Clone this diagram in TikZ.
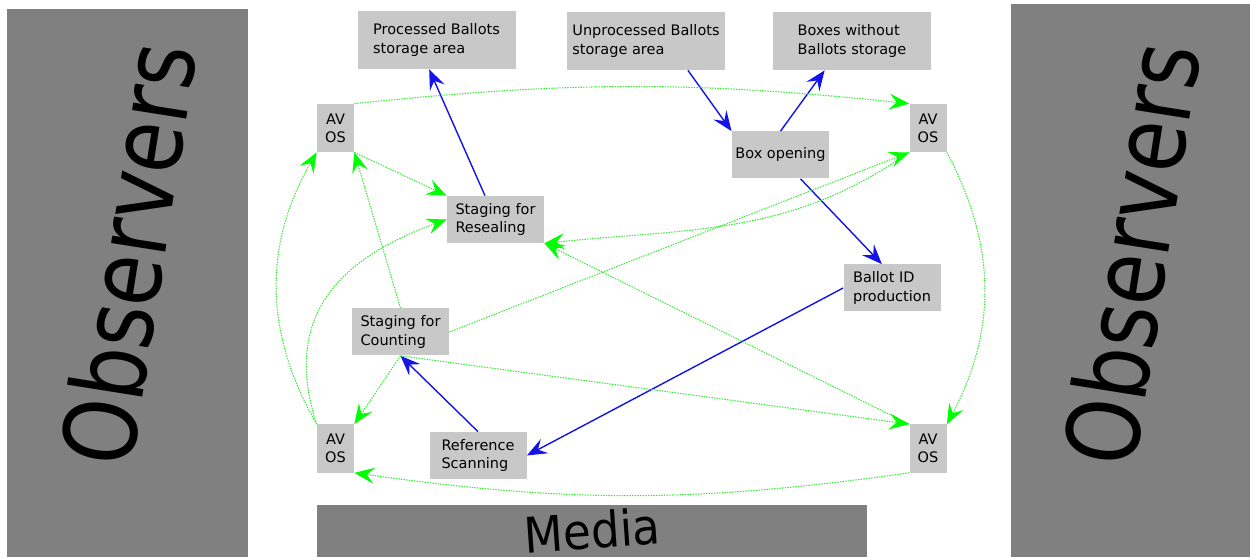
\documentclass[tikz,border=0pt]{standalone}
\usepackage{graphicx}
\usepackage{fontspec}
\setmainfont{DejaVu Sans}
\usetikzlibrary{positioning, arrows.meta, calc}
\definecolor{boxgrey}{RGB}{200,200,200}
\definecolor{panelgrey}{RGB}{128,128,128}
\definecolor{flowblue}{RGB}{20,20,230}
\definecolor{watchgreen}{RGB}{50,235,50}
\definecolor{tipgreen}{RGB}{0,255,0}

\begin{document}
\begin{tikzpicture}
		
		\tikzset{grey box/.style={
				fill=boxgrey,
				align=left,
				inner sep=2pt,
				minimum width=#1,
				minimum height=.94cm,
				font=\fontsize{8.25}{10.4}\selectfont
			},
			grey box/.default=1.94cm,
			store box/.style={grey box=3.16cm, minimum height=1.16cm},
			av box/.style={grey box=.74cm, minimum height=.96cm, align=center, inner sep=0pt},
			side panel/.style={fill=panelgrey, inner sep=0pt, anchor=south west},
			big label/.style={font=\fontsize{#1}{#1}\selectfont, inner sep=0pt}
		}
		\tikzset{flow/.style={draw=flowblue, line width=.8pt,
				-{Stealth[length=4mm, width=3.2mm, inset=1.5mm]}},
			watch/.style={draw=watchgreen, line width=.6pt, dash pattern=on .8pt off .7pt,
				-{Stealth[length=4mm, width=3.2mm, inset=1.5mm, color=tipgreen]}}
		}
		
		\useasboundingbox (0,0) rectangle (25,11.14);
		
		\node[side panel, minimum width=4.82cm, minimum height=10.96cm] (leftpanel) at (.14,0) {};
		\node[side panel, minimum width=4.78cm, minimum height=11.06cm] (rightpanel) at (20.22,0) {};
		\node[side panel, minimum width=11cm, minimum height=1.04cm] (mediapanel) at (6.34,0) {};
		\node[big label=57, rotate=81] (leftobs) at (2.55,6.06) {\scalebox{.83}[1]{Observers}};
		\node[big label=57, rotate=81] (rightobs) at (22.62,6.07) {\scalebox{.83}[1]{Observers}};
		\node[big label=28, rotate=4] (media) at (11.85,.54) {\scalebox{.92}[1]{Media}};
		
		\node[store box] (proc) at (8.73,10.34) {Processed Ballots\\storage area};
		\node[store box] (unproc) at (12.92,10.32) {Unprocessed Ballots\\storage area};
		\node[store box] (boxes) at (17.04,10.32) {Boxes without\\Ballots storage};
		\node[grey box] (boxopen) at (15.61,8.04) {Box opening};
		\node[grey box] (reseal) at (9.91,6.75) {Staging for\\Resealing};
		\node[grey box] (ballotid) at (17.84,5.38) {Ballot ID\\production};
		\node[grey box] (counting) at (8.01,4.50) {Staging for\\Counting};
		\node[grey box] (refscan) at (9.56,2.03) {Reference\\Scanning};
		\node[av box] (avtl) at (6.71,8.58) {AV\\OS};
		\node[av box] (avtr) at (18.56,8.58) {AV\\OS};
		\node[av box] (avbl) at (6.71,2.17) {AV\\OS};
		\node[av box] (avbr) at (18.56,2.17) {AV\\OS};
		
		\draw[flow] (reseal) -- (proc.-104);
		\draw[flow] (unproc.-35) -- (boxopen.north west);
		\draw[flow] (boxopen.north) -- (boxes.-133);
		\draw[flow] (boxopen.-50) -- (ballotid.113);
		\draw[flow] (ballotid.west) -- (refscan.east);
		\draw[flow] (refscan.north) -- (counting.south);
		
		\draw[watch] (avtl.north east) to[bend left=6] (avtr.north west);
		\draw[watch] (avtr.south east) to[bend left=28] (avbr.north east);
		\draw[watch] (avbr.south west) to[bend left=8] (avbl.south east);
		\draw[watch] (avbl.north west) to[bend left=30] (avtl.south west);
		\draw[watch] (avbl.north west) to[out=108, in=200, looseness=1.2] (reseal.west);
		\draw[watch] (avtl.south east) -- (reseal.north west);
		\draw[watch] (avtr.south west) to[out=215, in=6] (reseal.south east);
		\draw[watch] (avbr.north west) -- (reseal.south east);
		\draw[watch] (counting.north) -- (avtl.south east);
		\draw[watch] (counting.south) -- (avbl.north east);
		\draw[watch] (counting.south) -- (avbr.north west);
		\draw[watch] (counting.east) -- (avtr.south west);
		
		\end{tikzpicture}
\end{document}
